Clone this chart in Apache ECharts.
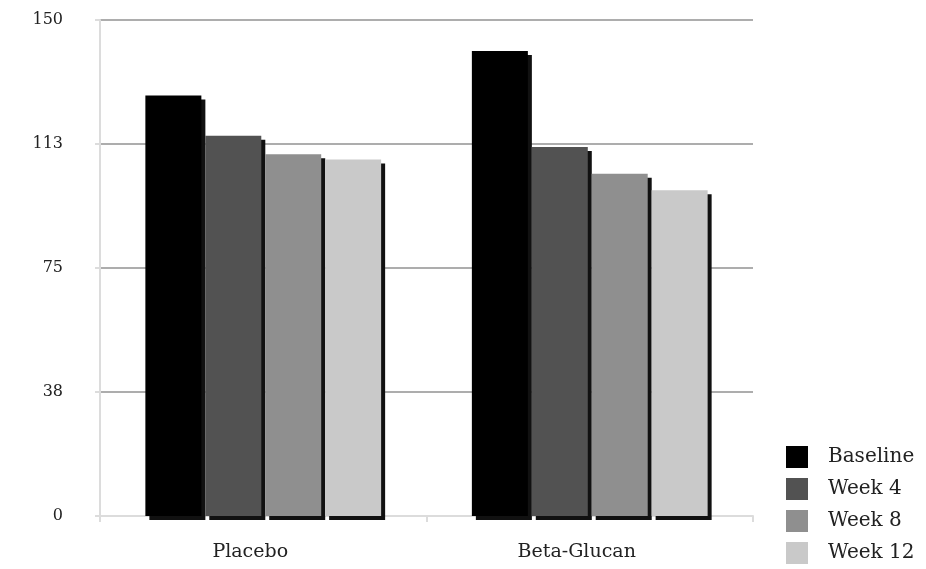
<!DOCTYPE html>
<html>
<head>
<meta charset="utf-8">
<script src="https://cdn.jsdelivr.net/npm/echarts@6/dist/echarts.min.js"></script>
<style>html,body{margin:0;padding:0;background:#fff;}#c{width:926px;height:569px;}</style>
</head>
<body>
<div id="c"></div>
<script>
const categories = ['Placebo', 'Beta-Glucan'];
const seriesNames = ['Baseline', 'Week 4', 'Week 8', 'Week 12'];
const baseline = [127.2, 140.6];
const week4 = [115.0, 111.6];
const week8 = [109.4, 103.5];
const week12 = [107.8, 98.5];
const yTicks = [0, 37.5, 75, 112.5, 150];

const seriesData = [baseline, week4, week8, week12];
const colors = ['#000000', '#525252', '#8f8f8f', '#c9c9c9'];
const font = '"DejaVu Serif", "Liberation Serif", serif';

const chart = echarts.init(document.getElementById('c'));
chart.setOption({
  animation: false,
  backgroundColor: '#fff',
  grid: { left: 100, right: 173, top: 20, bottom: 53, containLabel: false },
  legend: {
    orient: 'vertical',
    left: 786,
    bottom: 5,
    padding: 0,
    itemWidth: 22,
    itemHeight: 22,
    itemGap: 10,
    icon: 'rect',
    textStyle: { fontFamily: font, fontSize: 20, color: '#222', padding: [0, 0, 0, 15] },
    data: seriesNames
  },
  xAxis: {
    type: 'category',
    data: categories,
    axisLine: { show: true, lineStyle: { color: '#dcdcdc', width: 2 } },
    axisTick: { show: true, alignWithLabel: false, length: 6, lineStyle: { color: '#dcdcdc', width: 2 } },
    axisLabel: { fontFamily: font, fontSize: 19, color: '#222', margin: 27, padding: [0, 26, 0, 0] }
  },
  yAxis: {
    type: 'value',
    min: 0,
    max: 150,
    interval: 37.5,
    axisLine: { show: true, lineStyle: { color: '#dcdcdc', width: 2 } },
    axisTick: { show: true, length: 5, lineStyle: { color: '#dcdcdc', width: 2 } },
    axisLabel: {
      fontFamily: font, fontSize: 16, color: '#222', margin: 37,
      formatter: v => String(Math.round(v))
    },
    splitLine: { show: true, lineStyle: { color: '#adadad', width: 2 } }
  },
  series: seriesNames.map((name, i) => ({
    name: name,
    type: 'bar',
    data: seriesData[i],
    barWidth: 56,
    barGap: '7%',
    itemStyle: {
      color: colors[i],
      shadowColor: '#111',
      shadowOffsetX: 4,
      shadowOffsetY: 4,
      shadowBlur: 0
    }
  }))
});
</script>
</body>
</html>
